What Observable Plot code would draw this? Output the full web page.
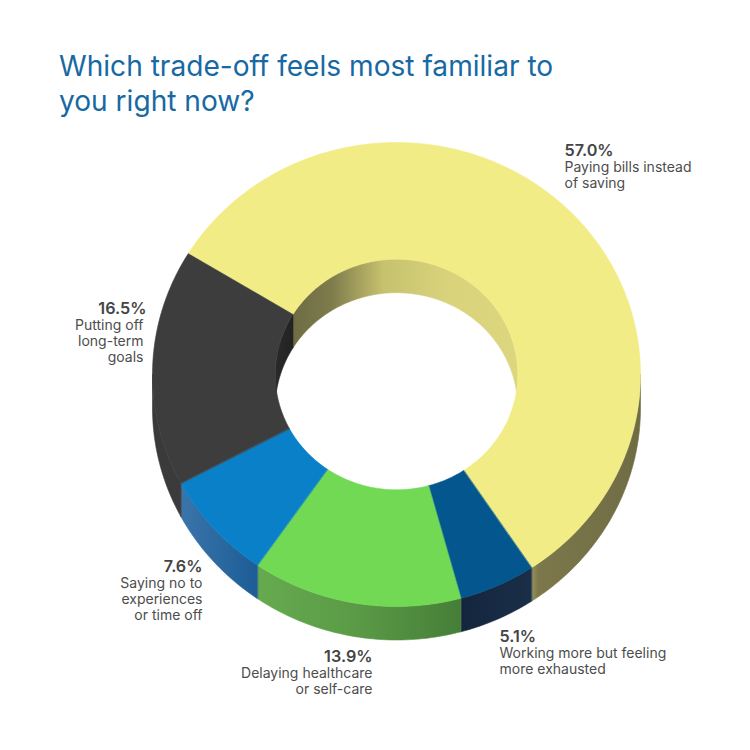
<!DOCTYPE html>
<html>
<head>
<meta charset="utf-8">
<script src="https://cdn.jsdelivr.net/npm/d3@7"></script>
<script src="https://cdn.jsdelivr.net/npm/@observablehq/plot@0.6"></script>
<style>
  html,body{margin:0;padding:0;background:#fff;}
  #title{box-sizing:border-box;height:130px;padding:49px 0 0 59px;font-family:Inter,sans-serif;font-size:28.1px;font-weight:400;line-height:35px;color:#1769a3;}
  svg{display:block;}
</style>
</head>
<body>
<div id="title">Which trade-off feels most familiar to<br>you right now?</div>
<div id="chart"></div>
<script>
const categories = ["Paying bills instead of saving","Working more but feeling more exhausted","Delaying healthcare or self-care","Saying no to experiences or time off","Putting off long-term goals"];
const values = [57.0, 5.1, 13.9, 7.6, 16.5];
const percentLabels = ["57.0%","5.1%","13.9%","7.6%","16.5%"];
const labelLines = [
  ["Paying bills instead","of saving"],
  ["Working more but feeling","more exhausted"],
  ["Delaying healthcare","or self-care"],
  ["Saying no to","experiences","or time off"],
  ["Putting off","long-term","goals"]
];
const topColors = ["#f2ec87","#04568f","#72d955","#0a80c8","#3d3d3d"];

// layout (page pixels)
const W = 750, H = 620, TOP = 130;
const CX = 396, CY = 374, RX = 244, RY = 232, HOLE = 0.497, DEPTH = 33.5 / RY, START = 301.4;
const labelAnchors = [
  {x:564,y:155,a:"start"},{x:499,y:641,a:"start"},{x:372,y:661,a:"end"},{x:202,y:571,a:"end"},{x:146,y:313,a:"end"}
];
const lineRight = [0,0,0,0,-3];

const total = d3.sum(values);
let acc = START;
const slices = values.map((v,i)=>{const a0=acc; acc+=v/total*360; return {i,a0,a1:acc};});
const pt = (deg,r,dy=0)=>{const t=deg*Math.PI/180; return {x:r*Math.sin(t),y:-Math.cos(t)*r+dy};};
const range = (a,b)=>{const out=[];const n=Math.max(2,Math.ceil(Math.abs(b-a)));for(let k=0;k<=n;k++)out.push(a+(b-a)*k/n);return out;};
const ring = s=>[...range(s.a0,s.a1).map(a=>pt(a,1)),...range(s.a1,s.a0).map(a=>pt(a,HOLE))];
const band = (a,b,r)=>[...range(a,b).map(x=>pt(x,r)),...range(b,a).map(x=>pt(x,r,DEPTH))];

// the visible part of each wall: outer wall on the lower half, inner wall on the upper half
function overlap(s,lo,hi){
  const res=[];
  for(const k of [-360,0,360]){
    const a=Math.max(s.a0,lo+k),b=Math.min(s.a1,hi+k);
    if(b>a)res.push([a,b]);
  }
  return res;
}
const outerWalls=[], innerWalls=[];
slices.forEach(s=>{
  overlap(s,90,270).forEach(([a,b])=>outerWalls.push({i:s.i,pts:band(a,b,1)}));
  overlap(s,270,450).forEach(([a,b])=>innerWalls.push({i:s.i,pts:band(a,b,HOLE)}));
});

const poly=(pts,fill)=>Plot.line(pts,{x:"x",y:"y",fill,stroke:fill,strokeWidth:0.6,curve:"linear-closed"});
const ux=p=>(p-CX)/RX, uy=p=>(p-CY)/RY;

const pctRows=percentLabels.map((t,i)=>({t,x:ux(labelAnchors[i].x),y:uy(labelAnchors[i].y),a:labelAnchors[i].a}));
const lineRows=labelLines.flatMap((ls,i)=>ls.map((t,j)=>({t,x:ux(labelAnchors[i].x+lineRight[i]),y:uy(labelAnchors[i].y+16.2*(j+1)),a:labelAnchors[i].a})));
const textMarks=a=>[
  Plot.text(pctRows.filter(d=>d.a===a),{x:"x",y:"y",text:"t",textAnchor:a,lineAnchor:"bottom",fontFamily:"Inter,sans-serif",fontSize:16.2,fontWeight:600,fill:"#454545"}),
  Plot.text(lineRows.filter(d=>d.a===a),{x:"x",y:"y",text:"t",textAnchor:a,lineAnchor:"bottom",fontFamily:"Inter,sans-serif",fontSize:14,fontWeight:400,fill:"#4d4d4d"})
];

const plot=Plot.plot({
  width:W,height:H,margin:0,
  style:{background:"transparent"},
  x:{domain:[ux(0),ux(W)],range:[0,W],axis:null},
  y:{domain:[uy(TOP),uy(TOP+H)],range:[0,H],axis:null},
  marks:[
    ...outerWalls.map(w=>poly(w.pts,`url(#outer${w.i})`)),
    ...innerWalls.map(w=>poly(w.pts,`url(#inner${w.i})`)),
    ...slices.map(s=>poly(ring(s),topColors[s.i])),
    ...textMarks("start"),
    ...textMarks("end")
  ]
});

const defs=d3.select(plot).insert("defs",":first-child");
const grad=(id,stops)=>{
  const g=defs.append("linearGradient").attr("id",id).attr("x1",0).attr("x2",1).attr("y1",0).attr("y2",0);
  stops.forEach(([o,c])=>g.append("stop").attr("offset",o).attr("stop-color",c));
};
grad("outer0",[[0,"#96925f"],[0.06,"#7c784b"],[1,"#6f6c44"]]);
grad("outer1",[[0,"#14263e"],[1,"#1a2e48"]]);
grad("outer2",[[0,"#66aa4f"],[0.5,"#5a9a46"],[1,"#467e38"]]);
grad("outer3",[[0,"#3a75aa"],[1,"#1d5c96"]]);
grad("outer4",[[0,"#3a3a3a"],[1,"#3b3b3b"]]);
grad("inner0",[[0,"#6e6c44"],[0.17,"#7e7b4c"],[0.4,"#c6c16d"],[0.7,"#d9d47c"],[1,"#dcd67e"]]);
grad("inner4",[[0,"#2a2a2a"],[1,"#222222"]]);
grad("inner1",[[0,"#04568f"],[1,"#04568f"]]);
grad("inner2",[[0,"#72d955"],[1,"#72d955"]]);
grad("inner3",[[0,"#0a80c8"],[1,"#0a80c8"]]);
document.getElementById("chart").appendChild(plot);
</script>
</body>
</html>
